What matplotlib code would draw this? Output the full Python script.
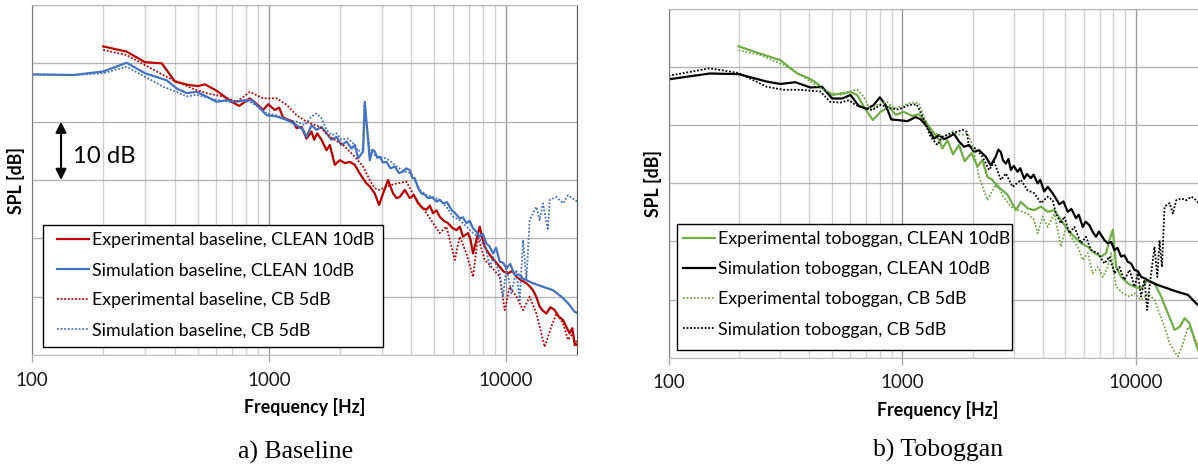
import matplotlib.pyplot as plt
from matplotlib.patches import Rectangle
from matplotlib.ticker import FixedLocator, NullFormatter, FuncFormatter

# a) Baseline -------------------------------------------------------------
exp_base_clean_f = [
    200, 251, 300, 353, 401, 457, 503, 537, 602, 696,
    749, 831, 896, 946, 993, 1060, 1105, 1149, 1266, 1309,
    1374, 1442, 1514, 1553, 1599, 1669, 1752, 1809, 1899, 1994,
    2093, 2197, 2307, 2421, 2584, 2667, 2800, 2920, 3037, 3187,
    3345, 3458, 3570, 3749, 3936, 4100, 4266, 4450, 4627, 4780,
    4934, 5100, 5267, 5480, 5707, 5950, 6194, 6400, 6606, 6934,
    7100, 7278, 7522, 7763, 7950, 8150, 8420, 8706, 9050, 9438,
    9800, 10230, 10650, 11100, 11650, 12230, 12600, 13040, 13450, 13910,
    14350, 14850, 15450, 16100, 16750, 17460, 18050, 18620, 19100, 19550,
    20000]
exp_base_clean_db = [
    62.9, 62.0, 60.2, 60.0, 56.9, 56.3, 56.1, 56.4, 55.3, 53.4,
    52.7, 54.0, 52.9, 52.0, 53.0, 52.0, 52.4, 50.7, 50.0, 48.9,
    49.1, 47.1, 48.3, 46.9, 48.0, 46.9, 45.1, 46.0, 42.6, 43.4,
    42.9, 43.1, 42.6, 41.1, 39.4, 38.9, 37.7, 35.7, 37.7, 40.0,
    37.7, 36.9, 37.1, 38.3, 36.9, 37.4, 36.0, 35.2, 34.9, 35.6,
    34.3, 34.8, 33.7, 33.0, 32.6, 31.8, 31.4, 32.0, 30.3, 30.9,
    29.8, 27.4, 29.7, 32.0, 30.2, 28.6, 27.6, 26.8, 26.0, 25.1,
    24.3, 24.0, 24.4, 23.4, 22.8, 22.3, 21.8, 21.1, 20.0, 18.3,
    17.6, 17.1, 18.2, 17.7, 16.6, 16.0, 14.8, 13.7, 14.6, 12.0,
    11.7]

sim_base_clean_f = [
    100, 150, 200, 251, 300, 370, 408, 449, 495, 546,
    602, 663, 719, 779, 845, 916, 978, 1078, 1188, 1309,
    1396, 1442, 1514, 1589, 1669, 1752, 1839, 1931, 2027, 2128,
    2234, 2307, 2382, 2500, 2541, 2667, 2740, 2800, 2870, 2940,
    3030, 3138, 3260, 3401, 3540, 3687, 3800, 3936, 4030, 4130,
    4270, 4407, 4550, 4700, 4900, 5100, 5260, 5440, 5650, 5900,
    6150, 6397, 6600, 6826, 7050, 7278, 7500, 7763, 8000, 8288,
    8550, 8840, 9100, 9438, 9750, 10070, 10450, 10920, 11400, 11840,
    13040, 14370, 15840, 17180, 18320, 19550, 20000]
sim_base_clean_db = [
    58.1, 58.0, 58.6, 60.1, 58.3, 57.1, 55.7, 54.9, 55.1, 54.3,
    53.4, 53.7, 53.4, 53.6, 53.7, 52.3, 51.1, 50.9, 50.3, 49.4,
    48.6, 47.4, 49.4, 48.6, 49.1, 48.0, 46.9, 47.4, 46.0, 46.6,
    45.4, 46.0, 43.7, 44.9, 53.4, 43.4, 45.2, 44.9, 43.8, 44.0,
    43.0, 43.1, 42.0, 42.3, 41.2, 41.4, 42.0, 41.7, 40.4, 40.3,
    38.6, 37.7, 37.5, 36.9, 37.0, 36.3, 36.6, 36.0, 36.2, 34.9,
    34.2, 33.4, 33.6, 32.6, 33.0, 31.7, 31.2, 30.3, 30.8, 29.1,
    28.6, 27.4, 28.4, 26.0, 25.8, 24.9, 25.6, 23.7, 23.8, 23.1,
    22.3, 21.7, 21.1, 20.0, 18.9, 17.4, 17.2]

exp_base_cb_f = [
    200, 251, 300, 358, 395, 495, 546, 641, 731, 831,
    946, 1078, 1188, 1309, 1442, 1641, 1809, 2059, 2269, 2500,
    2667, 2800, 2940, 3138, 3458, 3811, 4130, 4627, 4934, 5267,
    5620, 6095, 6397, 6826, 7278, 7640, 8150, 8706, 9438, 9900,
    10390, 11100, 11840, 12620, 13480, 14610, 15590, 16370, 17460, 18320,
    19230, 19550, 20000]
exp_base_cb_db = [
    62.3, 61.4, 59.7, 58.0, 57.1, 55.4, 54.9, 54.3, 53.4, 55.1,
    54.0, 54.0, 52.9, 51.1, 50.0, 49.1, 47.4, 46.0, 44.3, 42.3,
    40.0, 38.6, 38.3, 38.9, 39.4, 39.7, 37.1, 34.3, 32.6, 30.9,
    32.0, 26.3, 30.3, 27.4, 23.4, 30.3, 26.3, 25.1, 23.4, 17.7,
    21.7, 20.0, 17.7, 20.0, 17.1, 11.4, 14.9, 17.1, 15.4, 12.6,
    13.7, 11.4, 12.6]

sim_base_cb_f = [
    100, 150, 200, 251, 300, 358, 408, 449, 495, 602,
    685, 779, 831, 916, 978, 1078, 1188, 1309, 1419, 1514,
    1589, 1669, 1752, 1839, 1931, 2027, 2161, 2269, 2382, 2500,
    2533, 2667, 2848, 3138, 3401, 3631, 4000, 4337, 4627, 4934,
    5267, 5620, 5993, 6397, 6826, 7278, 7763, 8288, 8561, 8840,
    9438, 9740, 10070, 10570, 11100, 11460, 11840, 12230, 12620, 13040,
    13480, 13910, 14370, 15070, 15340, 16370, 17460, 18320, 19550, 20000]
sim_base_cb_db = [
    58.1, 58.0, 58.3, 59.4, 57.7, 56.0, 55.1, 54.3, 54.6, 53.7,
    53.4, 53.7, 53.4, 52.4, 51.4, 51.1, 50.4, 50.0, 49.4, 50.9,
    51.4, 50.6, 48.6, 47.7, 48.0, 46.9, 47.1, 46.3, 44.9, 45.4,
    52.9, 45.1, 44.0, 43.7, 42.6, 41.7, 41.1, 38.3, 37.4, 37.1,
    36.6, 35.4, 33.7, 33.1, 32.0, 30.9, 30.0, 28.0, 25.1, 26.8,
    24.0, 20.0, 25.1, 20.6, 24.6, 19.4, 29.7, 22.9, 33.1, 34.3,
    35.4, 33.1, 36.0, 31.4, 36.6, 37.1, 36.0, 37.4, 36.6, 36.3]

# b) Toboggan -------------------------------------------------------------
exp_tob_clean_f = [
    199, 239, 301, 355, 398, 432, 462, 501, 553, 601,
    642, 685, 748, 808, 877, 937, 1017, 1105, 1180, 1259,
    1369, 1440, 1486, 1562, 1650, 1751, 1850, 1980, 2100, 2204,
    2317, 2433, 2559, 2690, 2827, 3067, 3222, 3443, 3675, 3927,
    4198, 4479, 4785, 5114, 5456, 5830, 6230, 6653, 7108, 7463,
    7710, 7975, 8242, 8656, 9242, 9870, 10540, 11270, 12030, 12850,
    13730, 14660, 15410, 16190, 17000, 17880, 18740, 20000]
exp_tob_clean_db = [
    63.6, 62.5, 61.2, 58.9, 58.1, 57.2, 56.1, 55.2, 55.5, 55.7,
    55.2, 53.2, 50.9, 52.3, 53.2, 51.8, 52.3, 51.6, 51.9, 50.6,
    48.6, 47.5, 46.0, 47.4, 45.0, 46.6, 43.8, 45.2, 42.9, 44.0,
    41.1, 40.6, 39.4, 38.8, 38.0, 35.4, 36.8, 35.7, 35.4, 36.0,
    35.1, 35.4, 33.7, 32.0, 30.8, 29.7, 29.1, 28.0, 27.4, 28.0,
    30.2, 32.0, 25.6, 23.9, 22.8, 22.2, 21.9, 23.4, 22.8, 20.5,
    17.6, 14.8, 15.3, 16.8, 15.9, 13.0, 10.7, 9.0]

sim_tob_clean_f = [
    100, 150, 199, 264, 301, 349, 404, 454, 501, 553,
    601, 652, 708, 756, 802, 849, 898, 953, 1052, 1142,
    1200, 1282, 1369, 1438, 1511, 1588, 1667, 1751, 1840, 1933,
    2031, 2134, 2279, 2394, 2515, 2580, 2643, 2700, 2777, 2850,
    2918, 3000, 3118, 3200, 3328, 3420, 3556, 3650, 3800, 3900,
    4057, 4200, 4406, 4550, 4708, 4900, 5114, 5300, 5549, 5700,
    5929, 6100, 6330, 6550, 6760, 6950, 7108, 7350, 7590, 7850,
    8104, 8350, 8656, 8950, 9242, 9550, 9870, 10200, 10540, 11000,
    11450, 12440, 13730, 15170, 16740, 17880, 18740, 20000]
sim_tob_clean_db = [
    57.9, 58.9, 58.8, 57.5, 57.1, 57.4, 56.5, 56.6, 54.6, 54.6,
    55.2, 53.3, 52.8, 53.5, 54.8, 53.5, 51.0, 50.9, 50.7, 51.4,
    51.0, 49.7, 47.7, 48.3, 47.6, 48.0, 48.5, 47.2, 46.3, 46.6,
    45.4, 45.7, 44.6, 43.1, 44.6, 45.8, 45.4, 44.0, 43.4, 44.2,
    42.3, 43.0, 42.0, 42.6, 40.8, 41.6, 40.9, 41.5, 40.0, 40.6,
    38.6, 39.4, 38.3, 37.4, 36.4, 36.9, 35.1, 35.6, 34.0, 34.6,
    32.5, 33.4, 32.8, 31.6, 30.8, 31.7, 31.1, 30.2, 29.7, 29.9,
    28.5, 28.9, 27.4, 27.6, 26.5, 26.2, 25.1, 24.9, 23.9, 23.6,
    23.1, 22.5, 21.9, 21.3, 20.8, 19.6, 18.8, 17.5]

exp_tob_cb_f = [
    199, 247, 321, 379, 446, 501, 553, 601, 642, 685,
    732, 782, 863, 921, 985, 1087, 1180, 1239, 1302, 1391,
    1511, 1641, 1782, 1903, 1999, 2134, 2317, 2433, 2559, 2690,
    2918, 3118, 3443, 3675, 3800, 3992, 4198, 4479, 4785, 5026,
    5284, 5647, 5929, 6230, 6545, 6877, 7226, 7590, 7838, 8242,
    8808, 9405, 9870, 10540, 11270, 12030, 12640, 13280, 13960, 14660,
    15170, 15930, 16740, 17580, 18470, 20000]
exp_tob_cb_db = [
    62.9, 62.1, 60.1, 58.3, 56.4, 55.5, 55.2, 55.9, 56.1, 54.9,
    52.6, 53.5, 54.0, 52.9, 53.2, 53.9, 53.8, 51.5, 49.2, 48.6,
    48.0, 48.9, 48.3, 48.6, 46.6, 41.1, 37.1, 38.8, 40.0, 37.9,
    36.0, 35.4, 34.8, 33.7, 31.4, 34.3, 32.5, 34.8, 29.1, 32.5,
    30.8, 29.1, 26.8, 28.0, 24.5, 25.6, 23.9, 25.6, 28.0, 22.2,
    21.1, 20.5, 21.1, 19.9, 21.1, 19.9, 17.6, 15.3, 12.5, 11.0,
    10.2, 12.5, 15.3, 14.2, 11.9, 10.5]

sim_tob_cb_f = [
    100, 150, 199, 264, 311, 366, 446, 493, 544, 591,
    631, 685, 744, 808, 892, 968, 1069, 1153, 1190, 1239,
    1324, 1414, 1486, 1613, 1725, 1811, 1889, 1933, 2065, 2204,
    2356, 2475, 2643, 2777, 2970, 3222, 3443, 3675, 3927, 4198,
    4406, 4550, 4785, 4944, 5197, 5456, 5830, 6125, 6435, 6877,
    7340, 7710, 8104, 8509, 8937, 9405, 9870, 10210, 10540, 10890,
    11190, 11450, 11730, 12030, 12370, 12640, 12940, 13280, 13960, 14420,
    14900, 15660, 16450, 17300, 18160, 18740, 20000]
sim_tob_cb_db = [
    58.5, 59.8, 59.0, 56.6, 56.1, 56.1, 55.8, 54.0, 53.9, 54.3,
    53.5, 53.0, 52.6, 53.5, 52.9, 52.7, 53.5, 53.6, 52.5, 50.9,
    48.0, 46.6, 48.0, 48.6, 48.9, 49.2, 48.9, 46.3, 46.0, 44.6,
    42.3, 43.7, 40.6, 41.7, 39.4, 40.6, 38.8, 38.3, 36.6, 37.7,
    37.1, 34.8, 33.1, 34.3, 31.4, 32.5, 29.7, 30.8, 28.5, 28.0,
    26.2, 27.4, 24.5, 25.6, 23.4, 25.1, 22.2, 24.5, 20.5, 23.4,
    18.2, 22.2, 25.6, 29.1, 23.9, 30.2, 25.6, 36.0, 36.6, 34.8,
    37.1, 37.4, 37.1, 37.7, 37.1, 36.3, 36.0]

RED = '#C00000'
BLUE = '#4472C4'
GREEN = '#70AD47'
BLACK = '#000000'
DOT = (0, (1, 1))
FONT = 'Lato'
W, H = 1198, 467

fig = plt.figure(figsize=(W / 100, H / 100), dpi=100)


def px_box(x0, y0, x1, y1):
    # pixel box (top-left origin) -> figure fraction [l, b, w, h]
    return [x0 / W, 1 - y1 / H, (x1 - x0) / W, (y1 - y0) / H]


def setup(ax):
    ax.set_xscale('log')
    ax.set_xlim(100, 20000)
    ax.set_ylim(10, 70)
    ax.set_yticks([10, 20, 30, 40, 50, 60, 70])
    ax.tick_params(axis='y', left=False, labelleft=False)
    ax.xaxis.set_major_locator(FixedLocator([100, 1000, 10000]))
    minors = [m * d for d in (100, 1000, 10000) for m in range(2, 10)]
    ax.xaxis.set_minor_locator(FixedLocator(minors))
    ax.xaxis.set_major_formatter(FuncFormatter(lambda v, p: '%d' % v))
    ax.xaxis.set_minor_formatter(NullFormatter())
    ax.tick_params(axis='x', which='major', direction='out', length=5,
                   width=1, color='#a6a6a6', pad=7, labelsize=13.5,
                   labelcolor='#1a1a1a')
    for lab in ax.get_xticklabels():
        lab.set_family(FONT)
    ax.tick_params(axis='x', which='minor', length=0)
    ax.grid(True, axis='y', color='#b5b5b5', lw=1)
    ax.grid(True, axis='x', which='major', color='#9a9a9a', lw=1)
    ax.grid(True, axis='x', which='minor', color='#d0d0d0', lw=1)
    ax.set_axisbelow(True)
    ax.spines['left'].set_color('#7f7f7f')
    ax.spines['bottom'].set_color('#c0c0c0')
    ax.spines['top'].set_color('#b5b5b5')
    ax.spines['right'].set_visible(False)
    ax.set_xlabel('Frequency [Hz]', family=FONT, weight='bold',
                  fontsize=12.8, labelpad=7)
    ax.set_ylabel('SPL [dB]', family=FONT, weight='bold', fontsize=12.8,
                  labelpad=5)


def legend_box(ax, x0, y0, x1, y1, hx, hy, **kw):
    fr = px_box(x0, y0, x1, y1)
    ax.add_patch(Rectangle((fr[0], fr[1]), fr[2], fr[3],
                           transform=fig.transFigure, facecolor='white',
                           edgecolor='black', lw=1.0, zorder=8,
                           clip_on=False))
    leg = ax.legend(loc='upper left', bbox_to_anchor=(hx / W, 1 - hy / H),
                    bbox_transform=fig.transFigure, frameon=False,
                    borderpad=0, borderaxespad=0,
                    prop={'family': FONT, 'size': 12.8}, **kw)
    leg.set_zorder(9)
    return leg


# ---- left panel ----
axa = fig.add_axes(px_box(32, 5, 577, 355))
setup(axa)
axa.plot(exp_base_clean_f, exp_base_clean_db, color=RED, lw=1.6,
         label='Experimental baseline, CLEAN 10dB')
axa.plot(sim_base_clean_f, sim_base_clean_db, color=BLUE, lw=1.6,
         label='Simulation baseline, CLEAN 10dB')
axa.plot(exp_base_cb_f, exp_base_cb_db, color=RED, lw=1.3, ls=DOT,
         label='Experimental baseline, CB 5dB')
axa.plot(sim_base_cb_f, sim_base_cb_db, color=BLUE, lw=1.3, ls=DOT,
         label='Simulation baseline, CB 5dB')
axa.spines['right'].set_visible(True)
axa.spines['right'].set_color('#595959')
legend_box(axa, 43, 225, 383, 347, 57, 232, handlelength=1.8,
           handletextpad=0.17, labelspacing=0.8)

axa.annotate('', xy=(132.6, 50), xytext=(132.6, 40),
             arrowprops=dict(arrowstyle='<|-|>', color='black', lw=1.5,
                             mutation_scale=16, shrinkA=0, shrinkB=0))
axa.text(149, 44.1, '10 dB', family=FONT, fontsize=17.2, va='center',
         ha='left')

# ---- right panel ----
axb = fig.add_axes(px_box(668.6, 9, 1206.1, 357.7))
setup(axb)
axb.plot(exp_tob_clean_f, exp_tob_clean_db, color=GREEN, lw=1.6,
         label='Experimental toboggan, CLEAN 10dB')
axb.plot(sim_tob_clean_f, sim_tob_clean_db, color=BLACK, lw=1.6,
         label='Simulation toboggan, CLEAN 10dB')
axb.plot(exp_tob_cb_f, exp_tob_cb_db, color=GREEN, lw=1.3, ls=DOT,
         label='Experimental toboggan, CB 5dB')
axb.plot(sim_tob_cb_f, sim_tob_cb_db, color=BLACK, lw=1.3, ls=DOT,
         label='Simulation toboggan, CB 5dB')
legend_box(axb, 677, 224, 1012, 350, 683, 231, handlelength=1.8,
           handletextpad=0.17, labelspacing=0.8)

# captions
fig.text(296 / W, 1 - 452 / H, 'a) Baseline', family='Liberation Serif',
         fontsize=18.5, ha='center', va='center')
fig.text(938 / W, 1 - 450 / H, 'b) Toboggan', family='Liberation Serif',
         fontsize=18.5, ha='center', va='center')

fig.savefig('out.png', dpi=100)
